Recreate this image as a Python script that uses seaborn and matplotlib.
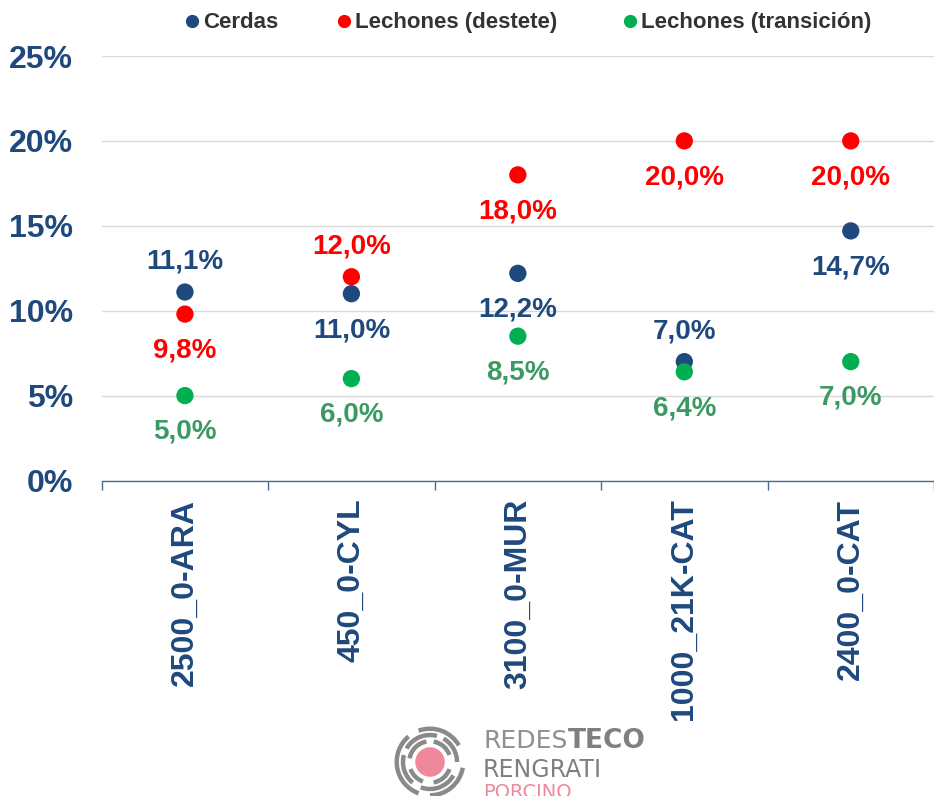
import numpy as np
import pandas as pd
import matplotlib.pyplot as plt
import seaborn as sns
from matplotlib.patches import Circle, Arc
from matplotlib.lines import Line2D
from matplotlib.ticker import PercentFormatter

sns.set_style("white")
plt.rcParams['font.family'] = ['Liberation Sans', 'DejaVu Sans']

# data
granjas = ["2500_0-ARA", "450_0-CYL", "3100_0-MUR", "1000_21K-CAT", "2400_0-CAT"]
cerdas = [11.1, 11.0, 12.2, 7.0, 14.7]
destete = [9.8, 12.0, 18.0, 20.0, 20.0]
transicion = [5.0, 6.0, 8.5, 6.4, 7.0]
series = ["Cerdas", "Lechones (destete)", "Lechones (transición)"]

# label placement: +1 above the point, -1 below
lado = {
    "Cerdas": [1, -1, -1, 1, -1],
    "Lechones (destete)": [-1, 1, -1, -1, -1],
    "Lechones (transición)": [-1, -1, -1, -1, -1],
}
punto_col = {"Cerdas": "#1F497D", "Lechones (destete)": "#FF0000", "Lechones (transición)": "#00B050"}
texto_col = {"Cerdas": "#1F497D", "Lechones (destete)": "#FF0000", "Lechones (transición)": "#3A9A62"}

df = pd.DataFrame({
    "granja": granjas * 3,
    "serie": [s for s in series for _ in granjas],
    "valor": cerdas + destete + transicion,
})
df["x"] = df["granja"].map({g: i for i, g in enumerate(granjas)})

W, H = 934, 796
fig = plt.figure(figsize=(W / 100, H / 100), dpi=100)
ax = fig.add_axes([101.7 / W, 1 - 480.5 / H, 1 - 101.7 / W, (480.5 - 56) / H])

sns.scatterplot(data=df, x="x", y="valor", hue="serie", palette=punto_col,
                s=155, linewidth=0, ax=ax, zorder=3, clip_on=False, legend=False)

for _, r in df.iterrows():
    d = lado[r["serie"]][int(r["x"])]
    ax.annotate(f"{r['valor']:.1f}%".replace(".", ","), (r["x"], r["valor"]),
                xytext=(0, 24 * d), textcoords="offset points",
                ha="center", va="center_baseline", fontsize=20, fontweight="bold",
                color=texto_col[r["serie"]])

ax.set_xlim(-0.5, (W - 186) / 168.6)
ax.set_ylim(0, 25)
ax.set_yticks(np.arange(0, 26, 5))
ax.yaxis.set_major_formatter(PercentFormatter(decimals=0))
ax.grid(axis="y", color="#D9D9D9", linewidth=1)
ax.set_axisbelow(True)
ax.set_xticks(range(len(granjas)))
ax.set_xticklabels(granjas, rotation=90)
ax.set_xticks(np.arange(-0.5, 4.6, 1), minor=True)
ax.tick_params(axis="x", which="major", length=0, pad=13, labelsize=23, labelcolor="#1F497D")
ax.tick_params(axis="x", which="minor", length=6.5, width=1, direction="out", color="#4A6C9B", bottom=True)
ax.tick_params(axis="y", length=0, pad=20.5, labelsize=23, labelcolor="#1F497D")
for lab in ax.get_xticklabels() + ax.get_yticklabels():
    lab.set_fontweight("bold")
ax.set_xlabel("")
ax.set_ylabel("")
for s in ["top", "right", "left"]:
    ax.spines[s].set_visible(False)
ax.spines["bottom"].set_color("#4A6C9B")
ax.spines["bottom"].set_linewidth(1)

# legend along the top
leg_x = {"Cerdas": 192, "Lechones (destete)": 344, "Lechones (transición)": 630}
for s in series:
    fig.add_artist(Line2D([leg_x[s] / W], [1 - 20.5 / H], marker="o", markersize=8.5,
                          color=punto_col[s], linestyle="none"))
    fig.text((leg_x[s] + 11) / W, 1 - 28 / H, s, fontsize=16, fontweight="bold",
             color="#333333", ha="left", va="baseline")

# logo
lax = fig.add_axes([(430 - 37) / W, 1 - (762 + 37) / H, 74 / W, 74 / H])
lax.set_xlim(-1, 1)
lax.set_ylim(-1, 1)
lax.set_aspect("equal")
lax.axis("off")
lax.add_patch(Circle((0, 0), 0.38, color="#F0889C"))
for rad, segs in [(0.56, [(20, 80), (100, 170), (200, 250), (280, 340)]),
                  (0.73, [(0, 60), (75, 150), (165, 230), (250, 330)]),
                  (0.9, [(30, 110), (130, 250), (270, 350)])]:
    for a, b in segs:
        lax.add_patch(Arc((0, 0), 2 * rad, 2 * rad, theta1=a, theta2=b,
                          color="#8A8A8A", linewidth=3.2))

t1 = fig.text(483 / W, 1 - 748 / H, "REDES", fontsize=18, color="#8F8F8F",
              family="Liberation Sans Narrow", va="baseline", ha="left")
fig.canvas.draw()
x_end = t1.get_window_extent().x1
fig.text(x_end / W, 1 - 748 / H, "TECO", fontsize=19, color="#7F7F7F",
         fontweight="bold", family="DejaVu Sans", va="baseline", ha="left")
fig.text(483 / W, 1 - 777 / H, "RENGRATI", fontsize=17, color="#7F7F7F",
         family="Liberation Sans Narrow", va="baseline", ha="left")
fig.text(483 / W, 1 - 798 / H, "PORCINO", fontsize=14, color="#F0889C",
         family="Liberation Sans Narrow", va="baseline", ha="left")

fig.savefig("out.png", dpi=100)
